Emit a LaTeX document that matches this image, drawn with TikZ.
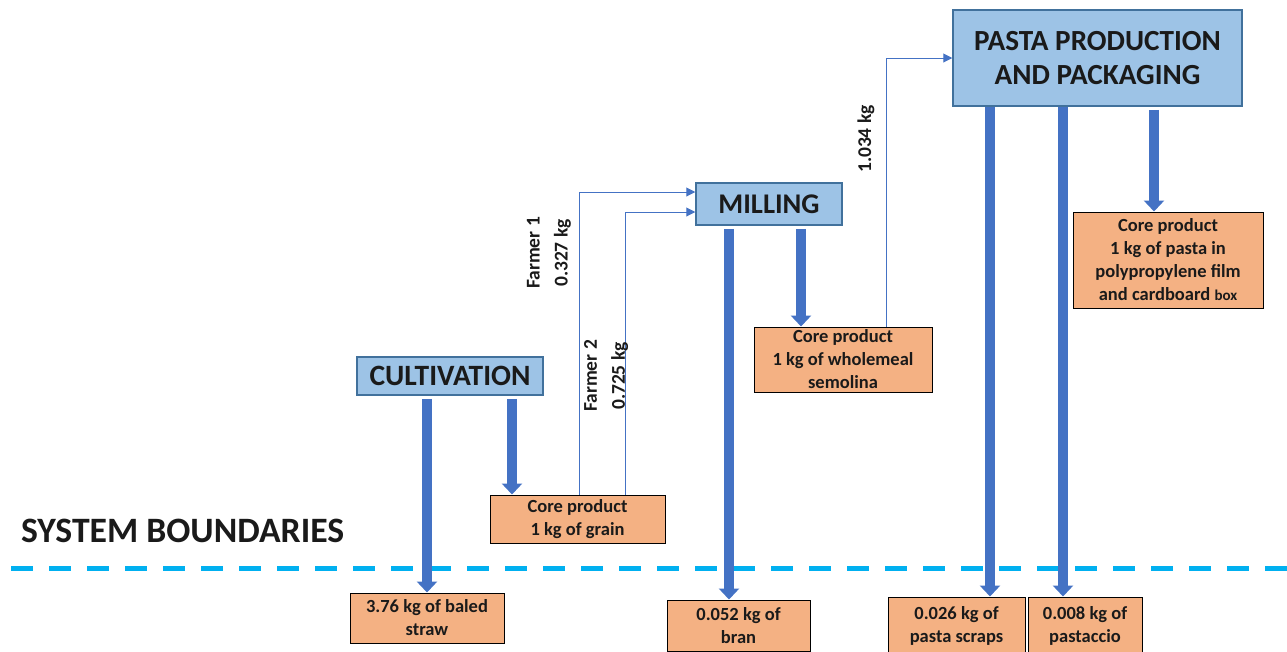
\documentclass[tikz,border=0pt]{standalone}
\usepackage{fontspec}
\setmainfont{Carlito}
\usetikzlibrary{arrows.meta,calc}
\definecolor{procfill}{HTML}{9DC3E6}
\definecolor{procdraw}{HTML}{41719C}
\definecolor{prodfill}{HTML}{F4B183}
\definecolor{arrowblue}{HTML}{4472C4}
\definecolor{boundary}{HTML}{00B0F0}
\definecolor{txt}{HTML}{1A1A1A}
\begin{document}
\begin{tikzpicture}[x=1pt,y=-1pt,
 proc/.style={draw=procdraw, fill=procfill, line width=1.5pt, text=txt, inner sep=0pt, align=center},
 prod/.style={draw=black, fill=prodfill, line width=1pt, text=txt, font=\bfseries\fontsize{18.5}{23}\selectfont, inner sep=0pt, align=center},
 bigarrow/.style={draw=arrowblue, line width=10pt, -{Triangle[width=20pt,length=11pt]}, shorten <=3pt},
 thinarrow/.style={draw=arrowblue, line width=1pt, -{Triangle[width=9pt,length=9pt]}},
 lbl/.style={font=\bfseries\fontsize{19.5}{28}\selectfont, text=txt, rotate=90, align=center}]
\useasboundingbox (0,0) rectangle (1287,651);

% boundary
\node[anchor=west, text=txt, font=\bfseries\fontsize{35.7}{40}\selectfont, inner sep=0pt] (sb) at (21,531) {SYSTEM BOUNDARIES};
\coordinate (bl) at (11,568);
\coordinate (br) at (1287,568);
\draw[boundary, line width=5pt, dash pattern=on 22pt off 16pt] (bl) -- (br);

% process boxes
\node[proc, minimum width=186pt, minimum height=38pt, font=\bfseries\fontsize{29.5}{30}\selectfont] (cult) at (450,376) {CULTIVATION};
\node[proc, minimum width=146pt, minimum height=42pt, font=\bfseries\fontsize{28.5}{30}\selectfont] (mill) at (769,204) {MILLING};
\node[proc, minimum width=289pt, minimum height=96pt, font=\bfseries\fontsize{29.2}{34}\selectfont] (pasta) at (1097.5,58) {PASTA PRODUCTION\\AND PACKAGING};

% product boxes
\node[prod, minimum width=175pt, minimum height=48pt] (grain) at (577.5,519) {Core product\\1 kg of grain};
\node[prod, minimum width=178pt, minimum height=65pt] (whole) at (843,359.5) {Core product\\1 kg of wholemeal\\semolina};
\node[prod, minimum width=190pt, minimum height=96pt] (pcore) at (1168,260) {Core product\\1 kg of pasta in\\polypropylene film\\and cardboard {\fontsize{15}{23}\selectfont box}};
\node[prod, minimum width=154pt, minimum height=50pt] (straw) at (427,618) {3.76 kg of baled\\straw};
\node[prod, minimum width=143pt, minimum height=51pt] (bran) at (738.5,625.5) {0.052 kg of\\bran};
\node[prod, minimum width=137pt, minimum height=58pt] (scraps) at (956.5,626) {0.026 kg of\\pasta scraps};
\node[prod, minimum width=114pt, minimum height=58pt] (pastac) at (1085,626) {0.008 kg of\\pastaccio};

% thick arrows
\coordinate (c1) at (427,0);
\coordinate (c2) at (512,0);
\coordinate (m1) at (729,0);
\coordinate (m2) at (801,0);
\coordinate (p1) at (990,0);
\coordinate (p2) at (1063,0);
\coordinate (p3) at (1154,0);
\draw[bigarrow] (c1 |- cult.south) -- (c1 |- straw.north);
\draw[bigarrow] (c2 |- cult.south) -- (c2 |- grain.north);
\draw[bigarrow] (m1 |- mill.south) -- (m1 |- bran.north);
\draw[bigarrow] (m2 |- mill.south) -- (m2 |- whole.north);
\draw[bigarrow, shorten <=0pt] (p1 |- pasta.south) -- (p1 |- scraps.north);
\draw[bigarrow, shorten <=0pt] (p2 |- pasta.south) -- (p2 |- pastac.north);
\draw[bigarrow] (p3 |- pasta.south) -- (p3 |- pcore.north);

% thin flows
\coordinate (f1) at (579,192);
\coordinate (f2) at (625,212);
\coordinate (s1) at (886,58);
\draw[thinarrow] (f1 |- grain.north) -- (f1) -- (f1 -| mill.west);
\draw[thinarrow] (f2 |- grain.north) -- (f2) -- (f2 -| mill.west);
\draw[thinarrow] (s1 |- whole.north) -- (s1) -- (s1 -| pasta.west);

% labels
\node[lbl] (l1) at (549,253) {Farmer 1\\0.327 kg};
\node[lbl] (l2) at (606,376) {Farmer 2\\0.725 kg};
\node[lbl] (l3) at (866,139) {1.034 kg};
\end{tikzpicture}
\end{document}
